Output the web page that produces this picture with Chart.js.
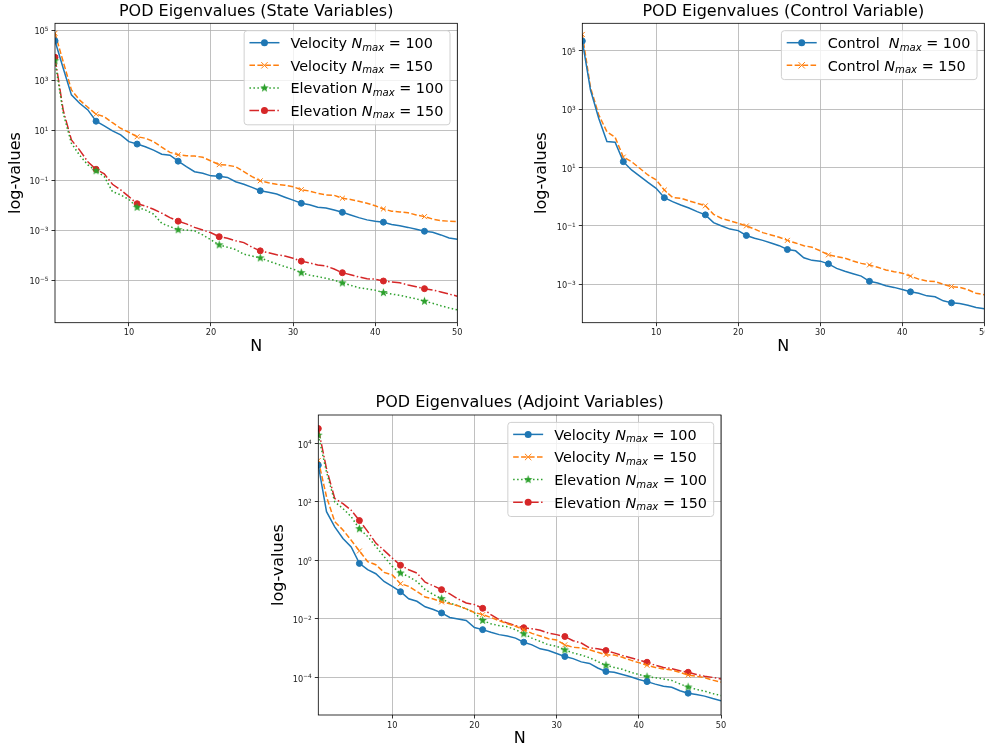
<!DOCTYPE html>
<html>
<head>
<meta charset="utf-8">
<script src="https://cdn.jsdelivr.net/npm/chart.js@4.4.0/dist/chart.umd.min.js"></script>
<style>
  html, body { margin: 0; padding: 0; background: #fff; overflow: hidden; width: 985px; height: 748px; }
  canvas { position: absolute; }
  #stateChart { left: 0; top: 0; }
  #controlChart { left: 520px; top: 0; }
  #adjointChart { left: 260px; top: 390px; }
</style>
</head>
<body>
<canvas id="stateChart" width="470" height="360"></canvas>
<canvas id="controlChart" width="480" height="360"></canvas>
<canvas id="adjointChart" width="480" height="360"></canvas>
<script>
// mode index N
const modes = [1, 2, 3, 4, 5, 6, 7, 8, 9, 10, 11, 12, 13, 14, 15, 16, 17, 18, 19, 20,
  21, 22, 23, 24, 25, 26, 27, 28, 29, 30, 31, 32, 33, 34, 35, 36, 37, 38, 39, 40,
  41, 42, 43, 44, 45, 46, 47, 48, 49, 50];

// state variables
const stateVel100 = [3.8e4, 3.0e3, 260, 120, 65, 23, 15, 9.5, 6.5, 3.5, 2.8, 2.2, 1.6, 1.1, 1.0, 0.58, 0.35, 0.22, 0.19, 0.15,
  0.145, 0.13, 0.087, 0.069, 0.052, 0.038, 0.033, 0.028, 0.021, 0.016, 0.012, 0.0105, 0.0083, 0.0078, 0.0065, 0.0052, 0.0041, 0.0032, 0.0026, 0.0023,
  0.0021, 0.0017, 0.0015, 0.0013, 0.0011, 9.1e-4, 8.3e-4, 6.5e-4, 4.9e-4, 4.4e-4];
const stateVel150 = [7.6e4, 5.5e3, 410, 160, 83, 44, 35, 20, 12, 8.3, 5.5, 4.8, 3.5, 2.1, 1.3, 1.05, 0.95, 0.93, 0.83, 0.59,
  0.42, 0.40, 0.35, 0.22, 0.14, 0.095, 0.079, 0.069, 0.063, 0.055, 0.042, 0.037, 0.030, 0.026, 0.025, 0.019, 0.017, 0.0145, 0.012, 0.0095,
  0.0071, 0.0058, 0.0054, 0.0050, 0.0041, 0.0035, 0.0028, 0.0024, 0.0023, 0.0022];
const stateElev100 = [6.0e3, 48, 3.0, 1.0, 0.41, 0.24, 0.14, 0.035, 0.026, 0.017, 0.0083, 0.0065, 0.0044, 0.0019, 0.0014, 1.05e-3, 1.02e-3, 9.5e-4, 6.5e-4, 4.1e-4,
  2.6e-4, 2.1e-4, 1.7e-4, 1.1e-4, 9.3e-5, 7.8e-5, 5.9e-5, 4.5e-5, 3.5e-5, 2.8e-5, 2.0e-5, 1.6e-5, 1.4e-5, 1.2e-5, 1.0e-5, 7.8e-6, 6.3e-6, 5.0e-6, 4.5e-6, 4.0e-6,
  3.2e-6, 2.8e-6, 2.5e-6, 2.1e-6, 1.8e-6, 1.45e-6, 1.2e-6, 9.5e-7, 7.8e-7, 6.5e-7];
const stateElev150 = [8.3e3, 63, 4.1, 1.6, 0.55, 0.275, 0.18, 0.069, 0.041, 0.022, 0.0115, 0.0093, 0.0069, 0.0048, 0.0032, 0.0023, 0.0018, 0.0013, 1.02e-3, 7.9e-4,
  5.5e-4, 4.8e-4, 3.8e-4, 3.2e-4, 2.1e-4, 1.5e-4, 1.26e-4, 1.05e-4, 9.3e-5, 7.6e-5, 5.8e-5, 4.9e-5, 4.1e-5, 3.7e-5, 2.8e-5, 2.0e-5, 1.66e-5, 1.35e-5, 1.15e-5, 1.1e-5,
  9.3e-6, 8.5e-6, 7.9e-6, 6.5e-6, 5.5e-6, 4.6e-6, 4.1e-6, 3.4e-6, 2.8e-6, 2.3e-6];

// control variable
const control100 = [2.2e5, 4.6e3, 490, 78, 74, 16, 8.3, 5.1, 3.1, 1.95, 0.93, 0.68, 0.52, 0.41, 0.31, 0.24, 0.13, 0.10, 0.078, 0.069,
  0.047, 0.038, 0.032, 0.026, 0.021, 0.0155, 0.014, 0.0081, 0.0066, 0.0062, 0.0050, 0.0035, 0.0028, 0.0023, 0.0019, 1.26e-3, 1.1e-3, 8.9e-4, 7.8e-4, 6.6e-4,
  5.5e-4, 4.9e-4, 4.0e-4, 3.7e-4, 2.7e-4, 2.3e-4, 2.2e-4, 1.9e-4, 1.6e-4, 1.45e-4];
const control150 = [3.7e5, 5.6e3, 650, 170, 110, 23, 16, 9.5, 5.6, 3.8, 1.7, 0.95, 0.89, 0.72, 0.60, 0.49, 0.25, 0.18, 0.15, 0.123,
  0.10, 0.078, 0.059, 0.049, 0.041, 0.032, 0.026, 0.021, 0.0186, 0.014, 0.0102, 0.0089, 0.0078, 0.0063, 0.0052, 0.0046, 0.0038, 0.0031, 0.0027, 0.0024,
  0.0019, 0.0015, 0.0013, 1.23e-3, 1.0e-3, 8.3e-4, 7.8e-4, 6.5e-4, 4.9e-4, 4.4e-4];

// adjoint variables
const adjVel100 = [1800, 46, 14, 5.6, 2.9, 0.79, 0.48, 0.35, 0.19, 0.13, 0.085, 0.049, 0.040, 0.026, 0.021, 0.016, 0.0112, 0.010, 0.0089, 0.0051,
  0.0043, 0.0035, 0.0029, 0.0026, 0.0022, 0.0016, 0.0013, 9.5e-4, 8.3e-4, 6.6e-4, 5.2e-4, 4.4e-4, 3.4e-4, 3.0e-4, 2.1e-4, 1.6e-4, 1.5e-4, 1.26e-4, 1.05e-4, 8.5e-5,
  7.2e-5, 5.9e-5, 5.0e-5, 4.6e-5, 3.5e-5, 2.9e-5, 2.6e-5, 2.3e-5, 1.9e-5, 1.6e-5];
const adjVel150 = [2600, 150, 21, 11, 4.9, 2.1, 0.91, 0.71, 0.39, 0.32, 0.16, 0.13, 0.087, 0.056, 0.048, 0.038, 0.033, 0.028, 0.022, 0.0166,
  0.014, 0.0112, 0.0087, 0.0068, 0.0056, 0.0043, 0.0032, 0.0026, 0.0021, 0.0019, 0.0013, 1.07e-3, 1.02e-3, 8.9e-4, 7.2e-4, 6.0e-4, 5.8e-4, 4.9e-4, 3.9e-4, 3.2e-4,
  2.6e-4, 2.2e-4, 1.95e-4, 1.8e-4, 1.5e-4, 1.2e-4, 1.1e-4, 9.8e-5, 8.1e-5, 6.9e-5];
const adjElev100 = [1.9e4, 1050, 100, 59, 31, 12, 6.6, 3.0, 1.35, 0.62, 0.37, 0.28, 0.19, 0.10, 0.068, 0.049, 0.035, 0.028, 0.022, 0.016,
  0.0089, 0.0068, 0.0059, 0.0054, 0.0043, 0.0031, 0.0022, 0.0017, 0.0013, 1.17e-3, 8.7e-4, 6.9e-4, 5.8e-4, 4.7e-4, 3.5e-4, 2.6e-4, 2.2e-4, 1.9e-4, 1.5e-4, 1.26e-4,
  1.05e-4, 9.8e-5, 8.9e-5, 7.9e-5, 6.0e-5, 4.7e-5, 3.9e-5, 3.4e-5, 2.8e-5, 2.4e-5];
const adjElev150 = [3.2e4, 1350, 130, 87, 52, 23, 9.8, 3.9, 2.2, 1.2, 0.68, 0.48, 0.37, 0.18, 0.135, 0.10, 0.072, 0.048, 0.035, 0.031,
  0.023, 0.014, 0.0095, 0.0072, 0.0059, 0.0050, 0.0046, 0.0041, 0.0033, 0.0029, 0.0025, 0.0018, 0.0015, 1.02e-3, 9.5e-4, 8.3e-4, 6.9e-4, 5.6e-4, 4.7e-4, 3.9e-4,
  3.3e-4, 2.6e-4, 2.2e-4, 2.0e-4, 1.7e-4, 1.5e-4, 1.26e-4, 1.1e-4, 1.0e-4, 8.9e-5];

// tick labels
const nTicks = [10, 20, 30, 40, 50];
const stateTicks = [1e-5, 1e-3, 1e-1, 1e1, 1e3, 1e5];
const controlTicks = [1e-3, 1e-1, 1e1, 1e3, 1e5];
const adjointTicks = [1e-4, 1e-2, 1e0, 1e2, 1e4];

const BLUE = "#1f77b4", ORANGE = "#ff7f0e", GREEN = "#2ca02c", RED = "#d62728";
const FONT = '"DejaVu Sans", sans-serif';
const SOLID = [], DASHED = [5.55, 2.4], DOTTED = [1.5, 2.475], DASHDOT = [9.6, 2.4, 1.5, 2.4];

// exponent of a power of ten, with a proper minus sign
const expText = v => String(Math.round(Math.log10(v))).replace("-", "\u2212");

function starImage(color) {
  const c = document.createElement("canvas");
  c.width = c.height = 11;
  const g = c.getContext("2d");
  g.fillStyle = color;
  g.beginPath();
  for (let i = 0; i < 10; i++) {
    const r = i % 2 ? 1.9 : 4.6;
    const a = -Math.PI / 2 + i * Math.PI / 5;
    g.lineTo(5.5 + r * Math.cos(a), 5.5 + r * Math.sin(a));
  }
  g.closePath();
  g.fill();
  return c;
}

function series(prefix, nmax, values, color, dash, marker) {
  return {
    label: prefix + "N_max = " + nmax,
    prefix, nmax, marker,
    data: values.map((v, i) => ({ x: modes[i], y: v })),
    borderColor: color,
    backgroundColor: color,
    borderWidth: 1.5,
    borderDash: dash,
    tension: 0,
    fill: false,
    pointStyle: marker === "star" ? starImage(color) : marker === "x" ? "crossRot" : "circle",
    pointRadius: c => (c.dataIndex % 5 === 0 ? (marker === "x" ? 3.5 : 3) : 0),
    pointBorderWidth: 1,
    pointBorderColor: color,
    pointBackgroundColor: color,
  };
}

function drawMarker(ctx, d, x, y) {
  ctx.save();
  ctx.setLineDash([]);
  ctx.strokeStyle = d.borderColor;
  ctx.fillStyle = d.borderColor;
  if (d.marker === "star") {
    ctx.drawImage(d.pointStyle, x - 5.5, y - 5.5);
  } else if (d.marker === "x") {
    ctx.lineWidth = 1;
    ctx.beginPath();
    ctx.moveTo(x - 3.2, y - 3.2); ctx.lineTo(x + 3.2, y + 3.2);
    ctx.moveTo(x - 3.2, y + 3.2); ctx.lineTo(x + 3.2, y - 3.2);
    ctx.stroke();
  } else {
    ctx.beginPath();
    ctx.arc(x, y, 3.5, 0, Math.PI * 2);
    ctx.fill();
  }
  ctx.restore();
}

// y tick labels as 10 with a raised exponent
function drawYLabels(chart) {
  const { ctx, chartArea: a } = chart;
  const scale = chart.scales.y;
  ctx.save();
  ctx.fillStyle = "#222";
  ctx.textAlign = "left";
  ctx.textBaseline = "alphabetic";
  scale.ticks.forEach(t => {
    const y = scale.getPixelForValue(t.value);
    const e = expText(t.value);
    ctx.font = `5.8px ${FONT}`;
    const we = ctx.measureText(e).width;
    ctx.font = `8.2px ${FONT}`;
    const wb = ctx.measureText("10").width;
    const xEnd = a.left - 6.5;
    ctx.fillText("10", xEnd - we - wb, y + 4.2);
    ctx.font = `5.8px ${FONT}`;
    ctx.fillText(e, xEnd - we, y + 0.8);
  });
  ctx.restore();
}

function drawLegend(chart) {
  const { ctx, chartArea: a } = chart;
  const sets = chart.data.datasets;
  const normal = `14.4px ${FONT}`, ital = `italic 14.4px ${FONT}`, small = `italic 10.1px ${FONT}`;
  const rows = sets.map(d => [[d.prefix, normal, 0], ["N", ital, 0], ["max", small, 2.6], [" = " + d.nmax, normal, 0]]);
  const widths = rows.map(r => r.reduce((s, p) => { ctx.font = p[1]; return s + ctx.measureText(p[0]).width; }, 0));
  const w = 5.3 + 30 + 11 + Math.max(...widths) + 6.7;
  const h = 12 + (sets.length - 1) * 22.6 + 14.3;
  const x0 = a.right - 7.3 - w, y0 = a.top + 7.4;

  ctx.save();
  ctx.beginPath();
  const r = 3;
  ctx.moveTo(x0 + r, y0);
  ctx.arcTo(x0 + w, y0, x0 + w, y0 + h, r);
  ctx.arcTo(x0 + w, y0 + h, x0, y0 + h, r);
  ctx.arcTo(x0, y0 + h, x0, y0, r);
  ctx.arcTo(x0, y0, x0 + w, y0, r);
  ctx.closePath();
  ctx.fillStyle = "rgba(255,255,255,0.8)";
  ctx.fill();
  ctx.strokeStyle = "#d0d0d0";
  ctx.lineWidth = 1;
  ctx.stroke();

  sets.forEach((d, i) => {
    const cy = y0 + 12 + i * 22.6;
    ctx.strokeStyle = d.borderColor;
    ctx.lineWidth = 1.5;
    ctx.setLineDash(d.borderDash);
    ctx.beginPath();
    ctx.moveTo(x0 + 5.3, cy);
    ctx.lineTo(x0 + 35.3, cy);
    ctx.stroke();
    drawMarker(ctx, d, x0 + 20.3, cy);
    let tx = x0 + 46.3;
    ctx.fillStyle = "#000";
    ctx.textBaseline = "alphabetic";
    ctx.textAlign = "left";
    rows[i].forEach(p => {
      ctx.font = p[1];
      ctx.fillText(p[0], tx, cy + 5.3 + p[2]);
      tx += ctx.measureText(p[0]).width;
    });
  });
  ctx.restore();
}

const podPlugin = {
  id: "podFrame",
  afterDatasetsDraw(chart) {
    const { ctx, chartArea: a } = chart;
    ctx.save();
    ctx.strokeStyle = "#000";
    ctx.lineWidth = 0.8;
    ctx.strokeRect(a.left, a.top, a.right - a.left, a.bottom - a.top);
    ctx.restore();
  },
  afterDraw(chart) {
    drawYLabels(chart);
    drawLegend(chart);
  },
};

function makeChart(id, o) {
  return new Chart(document.getElementById(id), {
    type: "line",
    data: { datasets: o.datasets },
    options: {
      responsive: false,
      animation: false,
      events: [],
      layout: { padding: { left: 0, right: o.padRight, top: 0, bottom: 0 } },
      plugins: {
        legend: { display: false },
        tooltip: { enabled: false },
        title: {
          display: true, text: o.title, color: "#000", fullSize: false,
          font: { family: FONT, size: 16, weight: "normal" },
          padding: o.titlePad,
        },
      },
      scales: {
        x: {
          type: "linear", min: 1, max: 50, bounds: "data",
          afterBuildTicks: s => { s.ticks = nTicks.map(v => ({ value: v })); },
          afterFit: s => { s.height = o.xHeight; },
          ticks: { color: "#222", font: { family: FONT, size: 8.2 }, padding: 2, maxRotation: 0, autoSkip: false, callback: v => String(v) },
          grid: { color: "#b0b0b0", lineWidth: 0.8, tickColor: "#000", tickLength: 3.5, tickWidth: 0.8 },
          border: { display: false },
          title: { display: true, text: "N", color: "#000", font: { family: FONT, size: 16 }, padding: { top: 0, bottom: o.xTitlePad } },
        },
        y: {
          type: "logarithmic", min: o.yMin, max: o.yMax, bounds: "data",
          afterBuildTicks: s => { s.ticks = o.yTicks.map(v => ({ value: v })); },
          afterFit: s => { s.width = o.yWidth; },
          ticks: { display: false, autoSkip: false },
          grid: { color: "#b0b0b0", lineWidth: 0.8, tickColor: "#000", tickLength: 3.5, tickWidth: 0.8 },
          border: { display: false },
          title: { display: true, text: "log-values", color: "#000", font: { family: FONT, size: 16 }, padding: { top: o.yTitlePad, bottom: 0 } },
        },
      },
    },
    plugins: [podPlugin],
  });
}

makeChart("stateChart", {
  title: "POD Eigenvalues (State Variables)",
  datasets: [
    series("Velocity ", 100, stateVel100, BLUE, SOLID, "o"),
    series("Velocity ", 150, stateVel150, ORANGE, DASHED, "x"),
    series("Elevation ", 100, stateElev100, GREEN, DOTTED, "star"),
    series("Elevation ", 150, stateElev150, RED, DASHDOT, "o"),
  ],
  yTicks: stateTicks, yMin: 2e-7, yMax: 1.9e5,
  padRight: 12.7, titlePad: { top: 2, bottom: 2.1 },
  yWidth: 55, yTitlePad: 6.4, xHeight: 37.3, xTitlePad: 3.4,
});

makeChart("controlChart", {
  title: "POD Eigenvalues (Control Variable)",
  datasets: [
    series("Control  ", 100, control100, BLUE, SOLID, "o"),
    series("Control ", 150, control150, ORANGE, DASHED, "x"),
  ],
  yTicks: controlTicks, yMin: 4.8e-5, yMax: 8.9e5,
  padRight: 15.7, titlePad: { top: 2, bottom: 2.1 },
  yWidth: 62.3, yTitlePad: 12.7, xHeight: 37.3, xTitlePad: 3.4,
});

makeChart("adjointChart", {
  title: "POD Eigenvalues (Adjoint Variables)",
  datasets: [
    series("Velocity ", 100, adjVel100, BLUE, SOLID, "o"),
    series("Velocity ", 150, adjVel150, ORANGE, DASHED, "x"),
    series("Elevation ", 100, adjElev100, GREEN, DOTTED, "star"),
    series("Elevation ", 150, adjElev150, RED, DASHDOT, "o"),
  ],
  yTicks: adjointTicks, yMin: 5.2e-6, yMax: 9.3e4,
  padRight: 19, titlePad: { top: 3, bottom: 2.8 },
  yWidth: 58.3, yTitlePad: 9.4, xHeight: 35, xTitlePad: 1.4,
});
</script>
</body>
</html>
